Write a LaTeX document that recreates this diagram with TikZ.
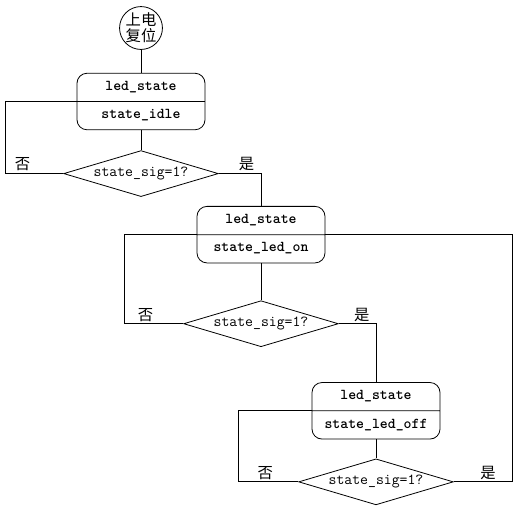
\documentclass[tikz,border=0pt]{standalone}
\usepackage{fontspec}
\newfontfamily\cjk{Noto Sans CJK SC}
\newfontfamily\boldmono{lmmonolt10-bold}[Extension=.otf]
\usetikzlibrary{shapes.geometric,shapes.multipart,positioning}

\tikzset{
  startnode/.style={circle, draw, inner sep=0pt, minimum size=31.5pt, align=center, font=\cjk\fontsize{11.5}{12}\selectfont},
  statebox/.style={rectangle split, rectangle split parts=2, draw, rounded corners=7.5pt, minimum width=96pt, inner ysep=4.3pt, font=\boldmono\fontsize{11.3}{12}\selectfont},
  check/.style={diamond, draw, aspect=3.4, inner sep=0pt, minimum width=116pt, minimum height=34.5pt, font=\ttfamily\fontsize{11.5}{12}\selectfont},
  yesno/.style={above, inner sep=1.5pt, font=\cjk\fontsize{11.5}{13}\selectfont}
}

\begin{document}
\begin{tikzpicture}[x=0.75pt, y=-0.75pt, line width=0.6pt]
    \useasboundingbox (0,0) rectangle (518,511);

    % Power-on reset
    \node (start) [startnode] at (141,28) {上电\\复位};

    % States and checks
    \node (s1) [statebox, below=17.25pt of start] {\strut led\_state \nodepart{two} \strut state\_idle};
    \node (d1) [check, below=15pt of s1] {state\_sig=1?};
    \node (s2) [statebox, below=6.75pt of d1, xshift=90pt] {\strut led\_state \nodepart{two} \strut state\_led\_on};
    \node (d2) [check, below=27.75pt of s2] {state\_sig=1?};
    \node (s3) [statebox, below=26.25pt of d2, xshift=86.25pt] {\strut led\_state \nodepart{two} \strut state\_led\_off};
    \node (d3) [check, below=14.25pt of s3] {state\_sig=1?};

    % Links
    \draw (start) -- (s1);
    \draw (s1) -- (d1);
    \draw (d1.west) -- node[yesno, pos=0.7] {否} ++(-58,0) |- (s1.text split west);
    \draw (d1.east) -| node[yesno, pos=0.33] {是} (s2.north);

    \draw (s2) -- (d2);
    \draw (d2.west) -- node[yesno, pos=0.64] {否} ++(-59,0) |- (s2.text split west);
    \draw (d2.east) -| node[yesno, pos=0.31] {是} (s3.north);

    \draw (s3) -- (d3);
    \draw (d3.west) -- node[yesno, pos=0.55] {否} ++(-60,0) |- (s3.text split west);
    \draw (d3.east) -- node[yesno, pos=0.58] {是} ++(59,0) |- (s2.text split east);
\end{tikzpicture}
\end{document}
